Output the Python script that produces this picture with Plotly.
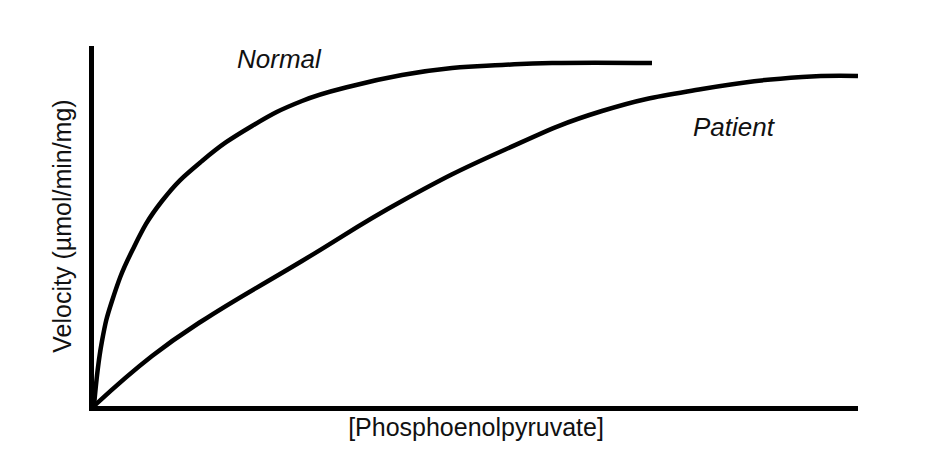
import plotly.graph_objects as go

normal_x = [0, 8, 18, 38, 68, 108, 158, 208, 258, 308, 358, 408, 458, 558]
normal_y = [0, 65, 105, 155, 205, 245, 280, 305, 320, 331, 338, 341, 343, 343]
patient_x = [0, 58, 108, 208, 308, 408, 508, 608, 708, 764]
patient_y = [0, 50, 85, 145, 205, 255, 295, 317, 329, 330]

fig = go.Figure()
for xs, ys in [(normal_x, normal_y), (patient_x, patient_y)]:
    fig.add_trace(go.Scatter(x=xs, y=ys, mode="lines",
                             line=dict(color="black", width=4.5, shape="spline", smoothing=1.3),
                             showlegend=False, hoverinfo="skip"))
fig.add_annotation(x=185, y=347, text="<i>Normal</i>", showarrow=False,
                   font=dict(size=26, color="#111"))
fig.add_annotation(x=640, y=279, text="<i>Patient</i>", showarrow=False,
                   font=dict(size=26, color="#111"))
fig.update_layout(
    width=946, height=464, paper_bgcolor="white", plot_bgcolor="white",
    margin=dict(l=86, r=96, t=38, b=66),
    font=dict(family="Liberation Sans, Arial", color="#111"),
    xaxis=dict(range=[0, 764], showgrid=False, zeroline=False, showticklabels=False,
               ticks="", showline=True, linecolor="black", linewidth=4.5,
               title=dict(text="[Phosphoenolpyruvate]", font=dict(size=25), standoff=10)),
    yaxis=dict(range=[0, 360], showgrid=False, zeroline=False, showticklabels=False,
               ticks="", showline=True, linecolor="black", linewidth=4.5,
               title=dict(text="Velocity (µmol/min/mg)", font=dict(size=25), standoff=12)),
)
fig.write_html("out.html")
